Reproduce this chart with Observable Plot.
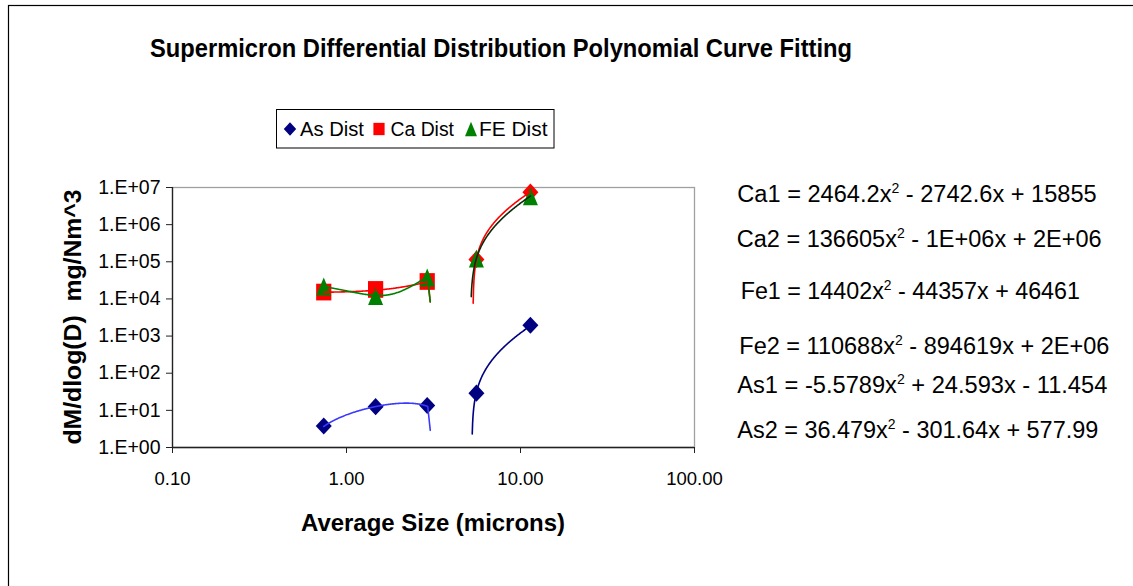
<!DOCTYPE html>
<html>
<head>
<meta charset="utf-8">
<script src="https://cdn.jsdelivr.net/npm/d3@7"></script>
<script src="https://cdn.jsdelivr.net/npm/@observablehq/plot@0.6"></script>
<style>
  html, body { margin: 0; padding: 0; background: #fff; }
  #chart svg { display: block; }
</style>
</head>
<body>
<div id="chart"></div>
<script>
// ---- data -------------------------------------------------------------
// average particle size of each stage (microns) and its size range group
const sizes = [0.74, 1.47, 2.91, 5.58, 11.4];
const sizeGroup = [1, 1, 1, 2, 2];
// dM/dlog(D), mg/Nm^3
const asDist = [3.8, 12.6, 13.5, 29, 1950];
const caDist = [15300, 18000, 29500, 116000, 7.5e6];
const feDist = [21700, 12000, 37500, 122000, 5.8e6];

// quadratic trend lines  y = a x^2 + b x + c, one per element and size range
const fitNames = ["As1", "As2", "Ca1", "Ca2", "Fe1", "Fe2"];
const fitA = [-5.5789, 36.479, 2464.2, 136605, 14402, 110688];
const fitB = [24.593, -301.64, -2742.6, -1033500, -44357, -894619];
const fitC = [-11.454, 577.99, 15855, 1629000, 46461, 1668000];
const fitFrom = [0.74, 5.28, 0.74, 5.345, 0.74, 5.21];
const fitTo = [2.93, 11.4, 2.93, 11.4, 2.93, 11.4];
// end point where the first-range curves drop off
const fitEndX = [3.03, null, 3.03, null, 3.03, null];
const fitEndY = [2.9, null, 8300, null, 8300, null];

// equation labels, split around the squared term
const eqHead = ["Ca1 = 2464.2x", "Ca2 = 136605x", "Fe1 = 14402x", "Fe2 = 110688x", "As1 = -5.5789x", "As2 = 36.479x"];
const eqTail = [" - 2742.6x + 15855", " - 1E+06x + 2E+06", " - 44357x + 46461", " - 894619x + 2E+06", " + 24.593x - 11.454", " - 301.64x + 577.99"];

const legendNames = ["As Dist", "Ca Dist", "FE Dist"];
const xTicks = [0.1, 1, 10, 100];
const yTicks = [1, 10, 100, 1e3, 1e4, 1e5, 1e6, 1e7];

const titleText = "Supermicron Differential Distribution Polynomial Curve Fitting";
const xLabel = "Average Size (microns)";
const yLabel = "dM/dlog(D)  mg/Nm^3";

// ---- styling ----------------------------------------------------------
const FONT = "'Liberation Sans', Arial, Helvetica, sans-serif";
const NAVY = "#000080", RED = "#ff0000", GREEN = "#008000";
const curveColor = {As1: "#3a3aff", As2: NAVY, Ca1: RED, Ca2: RED, Fe1: GREEN, Fe2: "#0b2a0b"};

// marker shapes (slightly taller than wide)
const diamondSym = {draw(ctx, size) { const r = Math.sqrt(size / Math.PI);
  ctx.moveTo(0, -1.07 * r); ctx.lineTo(r, 0); ctx.lineTo(0, 1.07 * r); ctx.lineTo(-r, 0); ctx.closePath(); }};
const squareSym = {draw(ctx, size) { const r = Math.sqrt(size / Math.PI);
  ctx.rect(-r, -1.1 * r, 2 * r, 2.2 * r); }};
const triangleSym = {draw(ctx, size) { const r = Math.sqrt(size / Math.PI);
  ctx.moveTo(0, -1.2 * r); ctx.lineTo(r, 1.2 * r); ctx.lineTo(-r, 1.2 * r); ctx.closePath(); }};

// ---- tables built from the arrays ------------------------------------
const pts = (vals) => sizes.map((x, i) => ({x, y: vals[i], group: sizeGroup[i]}));
const asPts = pts(asDist), caPts = pts(caDist), fePts = pts(feDist);

const curves = fitNames.map((name, i) => {
  const out = [];
  const n = 160, l0 = Math.log10(fitFrom[i]), l1 = Math.log10(fitTo[i]);
  for (let k = 0; k <= n; k++) {
    const x = 10 ** (l0 + (l1 - l0) * k / n);
    const y = fitA[i] * x * x + fitB[i] * x + fitC[i];
    if (y > 0) out.push({x, y});
  }
  if (fitEndX[i] != null) out.push({x: fitEndX[i], y: fitEndY[i]});
  return {name, data: out};
});
const curveOrder = ["Ca1", "Ca2", "Fe1", "Fe2", "As1", "As2"];

const yFmt = d => "1.E+" + String(Math.round(Math.log10(d))).padStart(2, "0");

const plot = Plot.plot({
  width: 1133,
  height: 586,
  marginLeft: 172,
  marginRight: 439,
  marginTop: 187,
  marginBottom: 139,
  style: {fontFamily: FONT, color: "#000", background: "#fff", overflow: "visible"},
  x: {type: "log", domain: [0.1, 100]},
  y: {type: "log", domain: [1, 1e7]},
  marks: [
    Plot.frame({stroke: "#a0a0a0", strokeWidth: 1.3}),
    Plot.axisY({ticks: yTicks, tickFormat: yFmt, tickSize: 6, tickPadding: 6, label: null, stroke: "#222"}),
    Plot.axisX({ticks: xTicks, tickFormat: d3.format(".2f"), tickSize: 6, tickPadding: 18, label: null, stroke: "#222"}),
    Plot.ruleX([0.1], {stroke: "#222", strokeWidth: 1.3}),
    Plot.ruleY([1], {stroke: "#222", strokeWidth: 1.3}),
    Plot.dot(asPts, {x: "x", y: "y", symbol: diamondSym, r: 8, fill: NAVY, stroke: "none"}),
    Plot.dot(caPts.filter(d => d.group === 1), {x: "x", y: "y", symbol: squareSym, r: 7.6, fill: RED, stroke: "none"}),
    Plot.dot(caPts.filter(d => d.group === 2), {x: "x", y: "y", symbol: diamondSym, r: 8, fill: RED, stroke: "none"}),
    Plot.dot(fePts, {x: "x", y: "y", symbol: triangleSym, r: 7.5, fill: GREEN, stroke: "none"}),
    ...curveOrder.map(name => {
      const c = curves.find(d => d.name === name);
      return Plot.line(c.data, {x: "x", y: "y", stroke: curveColor[name], strokeWidth: 1.6, curve: "linear"});
    })
  ]
});

const svg = d3.select(plot);
svg.attr("font-family", FONT);
svg.selectAll('g[aria-label="y-axis tick label"]').attr("font-size", 19.5);
svg.selectAll('g[aria-label="x-axis tick label"]').attr("font-size", 18.5);

const ann = svg.append("g").attr("font-family", FONT).attr("fill", "#000").attr("text-anchor", "start");

// outer chart border
ann.append("rect").attr("x", 8.5).attr("y", 5.5).attr("width", 1200).attr("height", 700)
  .attr("fill", "none").attr("stroke", "#000").attr("stroke-width", 1.2);

// title
ann.append("text").attr("x", 150).attr("y", 57).attr("font-size", 26).attr("font-weight", "bold")
  .attr("textLength", 702).attr("lengthAdjust", "spacingAndGlyphs").text(titleText);

// axis titles
ann.append("text").attr("x", 433).attr("y", 531).attr("text-anchor", "middle")
  .attr("font-size", 24).attr("font-weight", "bold")
  .attr("textLength", 264).attr("lengthAdjust", "spacingAndGlyphs").text(xLabel);
ann.append("text").attr("transform", "translate(81,317) rotate(-90)").attr("text-anchor", "middle")
  .attr("font-size", 24.5).attr("font-weight", "bold").attr("xml:space", "preserve")
  .style("white-space", "pre")
  .attr("textLength", 255).attr("lengthAdjust", "spacingAndGlyphs").text(yLabel);

// legend
const lg = ann.append("g");
lg.append("rect").attr("x", 276.5).attr("y", 109.5).attr("width", 277.5).attr("height", 38.5)
  .attr("fill", "#fff").attr("stroke", "#000").attr("stroke-width", 1);
const legendSym = [diamondSym, squareSym, triangleSym];
const legendFill = [NAVY, RED, GREEN];
const legendSymX = [290, 379, 471];
const legendSymR = [6.2, 5.6, 6];
const legendTextX = [300, 390.5, 479];
const legendTextW = [64, 63.5, 68.5];
legendNames.forEach((name, i) => {
  const r = legendSymR[i];
  lg.append("path").attr("transform", `translate(${legendSymX[i]},129)`)
    .attr("d", d3.symbol(legendSym[i], Math.PI * r * r)()).attr("fill", legendFill[i]);
  lg.append("text").attr("x", legendTextX[i]).attr("y", 136).attr("font-size", 20.5)
    .attr("textLength", legendTextW[i]).attr("lengthAdjust", "spacingAndGlyphs").text(name);
});

// trend line equations
const eqX = [737.3, 736.7, 740.7, 739.3, 737.3, 737.3];
const eqY = [201.7, 247.3, 299.3, 354.3, 393.3, 438.3];
const eqW = [359.4, 365, 339.3, 370, 370, 361];
eqHead.forEach((head, i) => {
  const t = ann.append("text").attr("x", eqX[i]).attr("y", eqY[i]).attr("font-size", 23.5)
    .attr("textLength", eqW[i]).attr("lengthAdjust", "spacingAndGlyphs").attr("xml:space", "preserve")
    .style("white-space", "pre");
  t.append("tspan").text(head);
  t.append("tspan").attr("font-size", 14).attr("dy", -9).text("2");
  t.append("tspan").attr("dy", 9).text(eqTail[i]);
});

document.getElementById("chart").append(plot);
</script>
</body>
</html>
